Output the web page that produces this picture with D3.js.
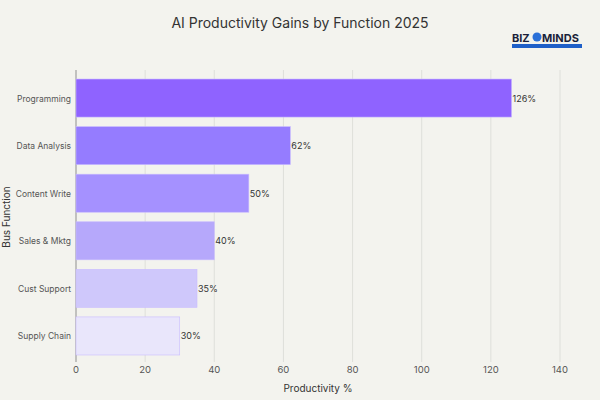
<!DOCTYPE html><html><head><script src="https://cdn.jsdelivr.net/npm/d3@7"></script>
<style>body{margin:0;background:#f3f3ee}text{font-family:Inter,"Open Sans",sans-serif}</style></head><body><svg id="c" width="600" height="400"></svg>
<script>
const categories=["Programming","Data Analysis","Content Write","Sales & Mktg","Cust Support","Supply Chain"];
const values=[126,62,50,40,35,30];
const colors=["#8f63ff","#957cff","#a591ff","#b6a8fb","#cfc8fb","#e9e6fb"];
const ticks=[0,20,40,60,80,100,120,140];
const svg=d3.select("#c");
svg.append("rect").attr("width",600).attr("height",400).attr("fill","#f3f3ee");
const x=d3.scaleLinear().domain([0,140]).range([76,560]);
const y=d3.scaleBand().domain(categories).range([69.5,364.5]).padding(0.2);
svg.append("g").selectAll("line").data(ticks).join("line").attr("x1",d=>x(d)).attr("x2",d=>x(d)).attr("y1",70).attr("y2",362).attr("stroke","#dedfda").attr("stroke-width",1);
svg.append("line").attr("x1",76).attr("x2",76).attr("y1",70).attr("y2",362).attr("stroke","#999");
svg.append("g").selectAll("rect").data(values).join("rect").attr("x",x(0)).attr("y",(d,i)=>y(categories[i])).attr("width",d=>x(d)-x(0)).attr("height",y.bandwidth()).attr("fill",(d,i)=>colors[i]).attr("stroke","#c9bcff").attr("stroke-width",0.6);
svg.append("g").selectAll("text").data(values).join("text").attr("x",d=>x(d)+1).attr("y",(d,i)=>y(categories[i])+y.bandwidth()/2+3.5).text(d=>d+"%").attr("font-size",9).attr("fill","#333");
svg.append("g").selectAll("text").data(categories).join("text").attr("x",71).attr("y",d=>y(d)+y.bandwidth()/2+3.5).attr("text-anchor","end").text(d=>d).attr("font-size",8.5).attr("fill","#555");
svg.append("g").selectAll("text").data(ticks).join("text").attr("x",d=>x(d)).attr("y",373).attr("text-anchor","middle").text(d=>d).attr("font-size",9.5).attr("fill","#555");
svg.append("text").attr("x",318).attr("y",392).attr("text-anchor","middle").text("Productivity %").attr("font-size",10).attr("fill","#333");
svg.append("text").attr("transform","translate(10,217) rotate(-90)").attr("text-anchor","middle").text("Bus Function").attr("font-size",10).attr("fill","#333");
svg.append("text").attr("x",300).attr("y",28).attr("text-anchor","middle").text("AI Productivity Gains by Function 2025").attr("font-size",14).attr("fill","#333");
svg.append("text").attr("x",512).attr("y",42).text("BIZ").attr("font-size",11).attr("font-weight","bold").attr("fill","#1a1f3a");
svg.append("circle").attr("cx",537).attr("cy",37).attr("r",4.5).attr("fill","#2a70d8");
svg.append("text").attr("x",542).attr("y",42).text("MINDS").attr("font-size",11).attr("font-weight","bold").attr("fill","#1a1f3a");
svg.append("rect").attr("x",512).attr("y",44).attr("width",70).attr("height",4).attr("fill","#1e5fc8");
</script></body></html>
